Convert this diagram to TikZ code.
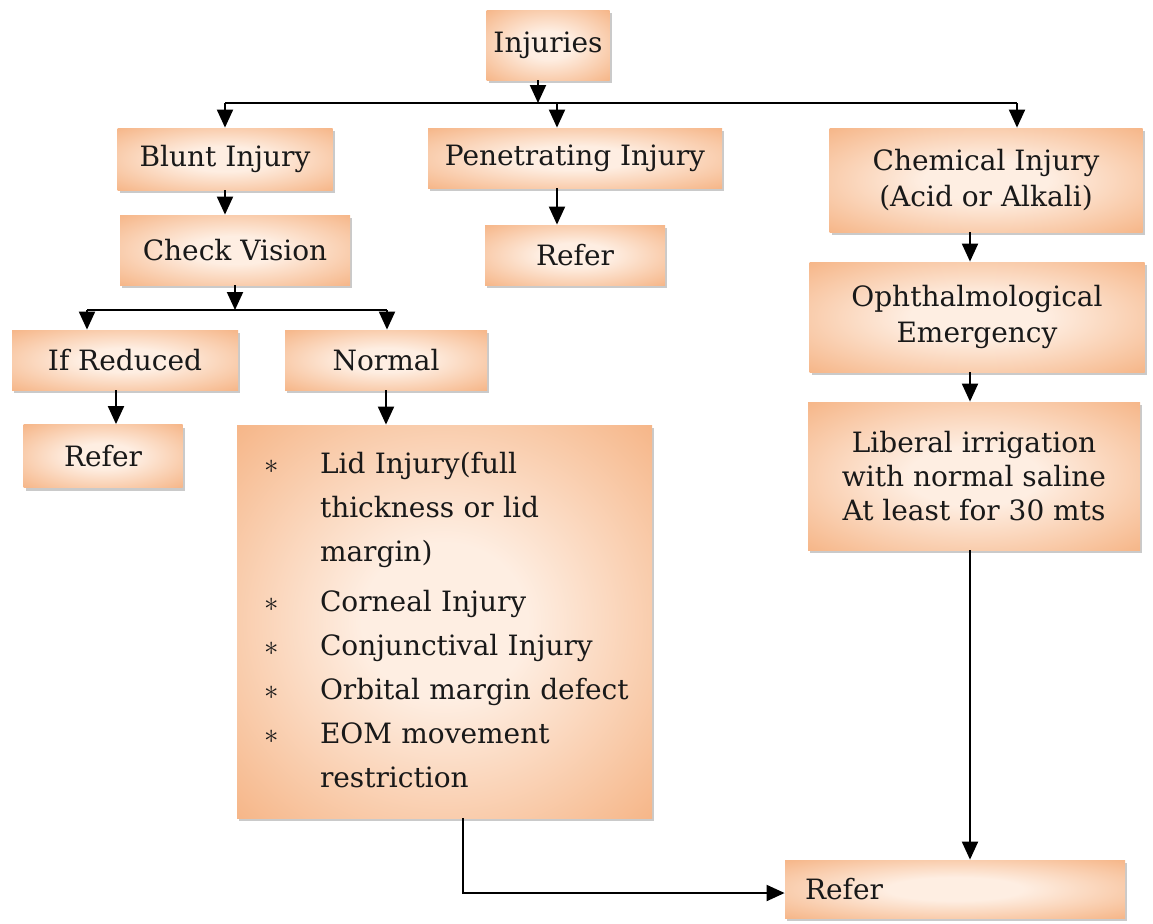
\documentclass[tikz,border=0pt]{standalone}
\usepackage{fontspec}
\setmainfont{DejaVu Serif}
\usetikzlibrary{shadows, arrows.meta, positioning}
\definecolor{boxout}{RGB}{243,163,106}
\definecolor{boxin}{RGB}{254,238,226}
\pgfdeclareradialshading{boxglow}{\pgfpoint{0bp}{0bp}}{color(0bp)=(boxin); color(10bp)=(boxin); color(44bp)=(boxout); color(50bp)=(boxout)}
\tikzstyle{arrow} = [line width=1pt,->]

\begin{document}
\begin{tikzpicture}[
                x=0.5pt, y=-0.5pt,
                >={Triangle[length=9pt,width=8pt]},
                box/.style={
                    shade,
                    shading=boxglow,
                    drop shadow={shadow xshift=1.2pt, shadow yshift=-1.5pt, fill=black!60, opacity=0.35},
                    align=center,
                    inner sep=0pt,
                    font=\fontsize{14}{18}\selectfont
                },
                every node/.style={text=black!90}
            ]

                \useasboundingbox (0,0) rectangle (1153,923);

                \node[box, minimum width=61.5pt, minimum height=35pt] (inj) at (548,45) {Injuries};
                \node[box, minimum width=107.5pt, minimum height=31pt] (blunt) at (225,159) {Blunt Injury};
                \node[box, minimum width=147pt, minimum height=30pt] (pen) at (575,158) {Penetrating Injury};
                \node[box, minimum width=156.5pt, minimum height=52pt] (chem) at (986,180) {Chemical Injury\\(Acid or Alkali)};
                \node[box, minimum width=115pt, minimum height=35pt] (vis) at (235,250) {Check Vision};
                \node[box, minimum width=90pt, minimum height=30pt] (refpen) at (575,255) {Refer};
                \node[box, minimum width=113pt, minimum height=30pt] (red) at (125,360) {If Reduced};
                \node[box, minimum width=101pt, minimum height=30pt] (norm) at (386,360) {Normal};
                \node[box, minimum width=79.5pt, minimum height=31.5pt] (refred) at (103,456) {Refer};
                \node[box, minimum width=167.5pt, minimum height=55pt] (oph) at (977,317) {Ophthalmological\\Emergency};
                \node[box, minimum width=166pt, minimum height=74pt, font=\fontsize{14}{17}\selectfont] (irr) at (974,476) {Liberal irrigation\\with normal saline\\At least for 30 mts};
                \node[box, minimum width=207.5pt, minimum height=196.5pt, text width=183.5pt, inner xsep=12pt, align=left,
                      font=\fontsize{14}{22}\selectfont] (list) at (444.5,621.5) {%
                    \begin{tabular}{@{}p{29.5pt}@{}l@{}}
                        \makebox[11pt]{$\ast$} & Lid Injury(full\\
                                               & thickness or lid\\
                                               & margin)\\[3pt]
                        \makebox[11pt]{$\ast$} & Corneal Injury\\
                        \makebox[11pt]{$\ast$} & Conjunctival Injury\\
                        \makebox[11pt]{$\ast$} & Orbital margin defect\\
                        \makebox[11pt]{$\ast$} & EOM movement\\
                                               & restriction
                    \end{tabular}};
                \node[box, minimum width=170pt, minimum height=29pt, text width=150pt, inner xsep=10pt, align=left] (refend) at (955,889) {Refer};

                \coordinate (bus1L) at (225,103);
                \coordinate (bus1R) at (1017,103);
                \coordinate (bus2L) at (87,310);
                \coordinate (bus2R) at (387,310);

                % top level
                \draw[line width=1pt] (bus1L) -- (bus1R);
                \draw[arrow] ([xshift=-5pt]inj.south) -- ([xshift=-5pt]inj.south |- bus1L);
                \draw[arrow] (bus1L) -- (bus1L |- blunt.north);
                \draw[arrow] ([xshift=-9pt]pen.north |- bus1L) -- ([xshift=-9pt]pen.north);
                \draw[arrow] (bus1R) -- (bus1R |- chem.north);

                % blunt branch
                \draw[arrow] (blunt.south) -- (blunt.south |- vis.north);
                \draw[line width=1pt] (bus2L) -- (bus2R);
                \draw[arrow] (vis.south) -- (vis.south |- bus2L);
                \draw[arrow] (bus2L) -- (bus2L |- red.north);
                \draw[arrow] (bus2R) -- (bus2R |- norm.north);
                \draw[arrow] ([xshift=-4.5pt]red.south) -- ([xshift=-4.5pt]red.south |- refred.north);
                \draw[arrow] (norm.south) -- (norm.south |- list.north);
                \draw[arrow] ([xshift=9pt]list.south) |- ([yshift=-2pt]refend.west);

                % penetrating
                \draw[arrow] ([xshift=-9pt]pen.south) -- ([xshift=-9pt]pen.south |- refpen.north);

                % chemical branch
                \draw[arrow] ([xshift=-8pt]chem.south) -- ([xshift=-8pt]chem.south |- oph.north);
                \draw[arrow] ([xshift=-3.5pt]oph.south) -- ([xshift=-3.5pt]oph.south |- irr.north);
                \draw[arrow] ([xshift=-2pt]irr.south) -- ([xshift=-2pt]irr.south |- refend.north);

            \end{tikzpicture}
\end{document}
